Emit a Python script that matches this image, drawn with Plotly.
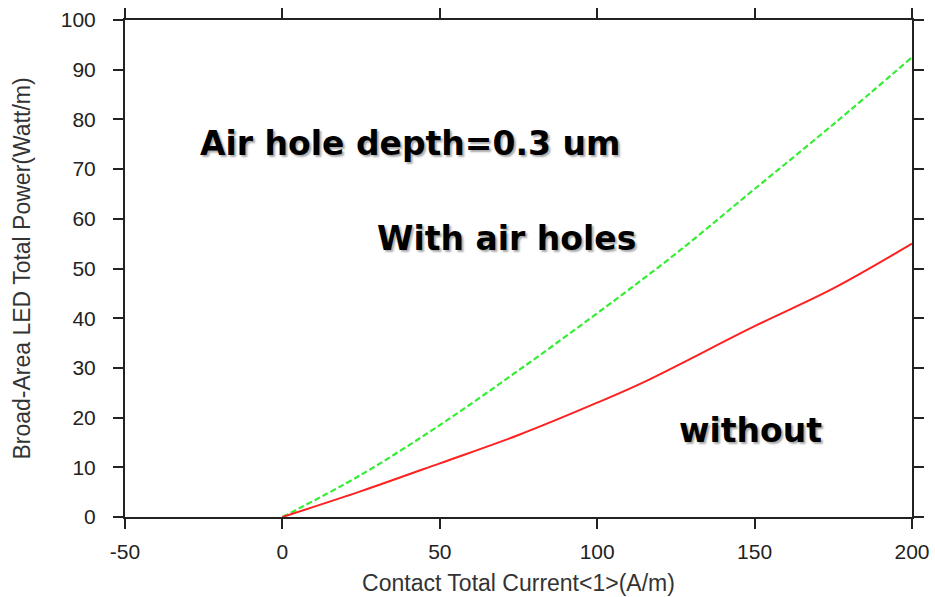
import plotly.graph_objects as go

current = [0, 25, 50, 75, 100, 125, 150, 175, 200]
power_with_holes = [0, 8.5, 18.5, 29.5, 41, 53, 66, 79, 92.5]
current_without = [0, 25, 50, 75, 100, 115, 150, 175, 200]
power_without = [0, 5.2, 10.8, 16.5, 23, 27.2, 38.4, 46, 55]

x_ticks = [-50, 0, 50, 100, 150, 200]
x_tick_text = ["-50", "0", "50", "100", "150", "200"]
y_ticks = [0, 10, 20, 30, 40, 50, 60, 70, 80, 90, 100]

fig = go.Figure()
fig.add_trace(go.Scatter(x=current, y=power_with_holes, mode="lines",
                         line=dict(color="#33ee33", width=2.2, dash="6px,3px", shape="spline"),
                         name="With air holes"))
fig.add_trace(go.Scatter(x=current_without, y=power_without, mode="lines",
                         line=dict(color="#ff2020", width=2, shape="spline"),
                         name="without"))

axis_font = dict(family="Liberation Sans, Arial", size=21, color="#222")
title_font = dict(family="Liberation Sans, Arial", size=23, color="#333")
axis_common = dict(showline=True, linecolor="#222", linewidth=2, mirror="ticks",
                   ticks="outside", ticklen=10, tickwidth=1.5, tickcolor="#222",
                   showgrid=False, zeroline=False, tickfont=axis_font, automargin=False)

fig.update_xaxes(range=[-50, 200], tickvals=x_ticks, ticktext=x_tick_text,
                 ticklabelstandoff=5,
                 title=dict(text="Contact Total Current<1>(A/m)", font=title_font, standoff=13),
                 **axis_common)
fig.update_yaxes(range=[0, 100], tickvals=y_ticks, ticklabelstandoff=13,
                 title=dict(text="Broad-Area LED Total Power(Watt/m)", font=title_font, standoff=24),
                 **axis_common)

ann_font = dict(family="DejaVu Sans", size=33, color="black", weight="bold",
                shadow="2px 2px 2px #aaa")
fig.add_annotation(x=0.093, y=0.752, xref="paper", yref="paper", text="Air hole depth=0.3 um",
                   showarrow=False, xanchor="left", yanchor="middle", font=ann_font)
fig.add_annotation(x=0.318, y=0.561, xref="paper", yref="paper", text="With air holes",
                   showarrow=False, xanchor="left", yanchor="middle", font=ann_font)
fig.add_annotation(x=0.702, y=0.175, xref="paper", yref="paper", text="without",
                   showarrow=False, xanchor="left", yanchor="middle", font=ann_font)

fig.update_layout(width=935, height=597, showlegend=False,
                  plot_bgcolor="white", paper_bgcolor="white",
                  margin=dict(l=125, r=23, t=20, b=80))
fig.write_html("out.html")
